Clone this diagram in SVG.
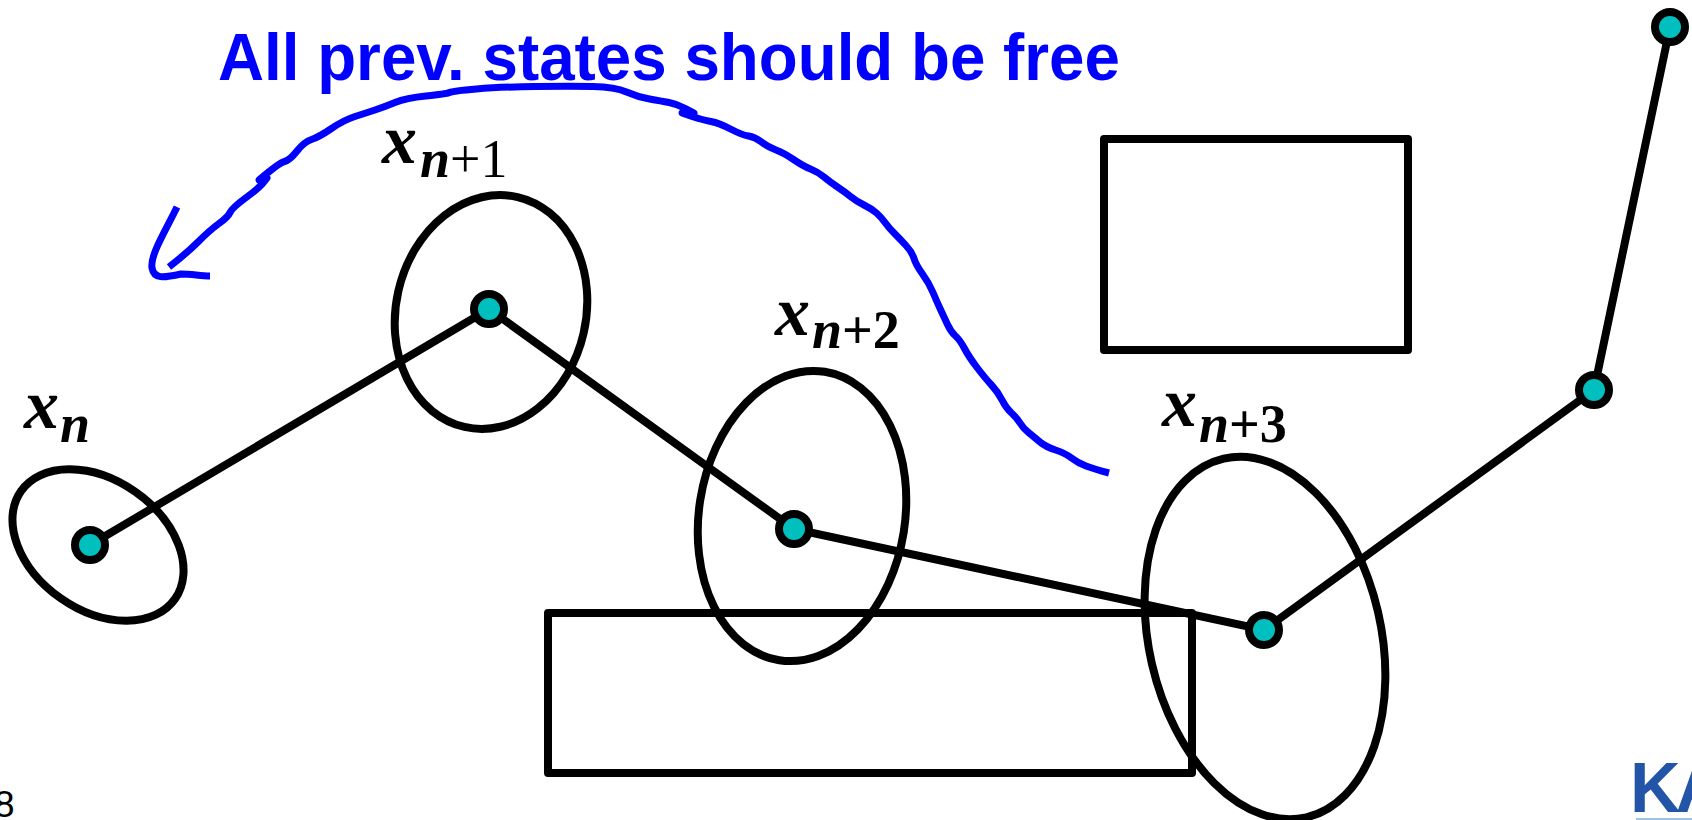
<svg xmlns="http://www.w3.org/2000/svg" width="1692" height="820" viewBox="0 0 1692 820">
<style>
.o{fill:none;stroke:#000;stroke-width:8;stroke-linejoin:round}
.c{fill:none;stroke:#000;stroke-width:8}
.p{fill:#00bfbf;stroke:#000;stroke-width:8}
.b{fill:none;stroke:#0000ff;stroke-width:7;stroke-linejoin:round}
.m{font-family:"Liberation Serif",serif;fill:#000}
.x{font-size:70px;font-weight:bold;font-style:italic}
.s{font-size:54px;font-weight:bold;font-style:italic}
.r{font-size:54px;font-weight:normal;font-style:normal}
.d{font-size:54px;font-weight:bold;font-style:normal}
</style>
<rect width="1692" height="820" fill="#fff"/>
<text id="title" x="218" y="80" font-family="Liberation Sans, sans-serif" font-weight="bold" font-size="66" fill="#0000ff" textLength="902" lengthAdjust="spacingAndGlyphs">All prev. states should be free</text>
<g id="obstacle1"><rect class="o" x="1104" y="139" width="304" height="211"/></g>
<g id="obstacle2"><rect class="o" x="548" y="613" width="644" height="160"/></g>
<g id="connectors">
<path class="c" d="M90 545L489 309L794 529L1264 630L1594 390L1670 27"/>
</g>
<g id="sweep"><path class="b" d="M177 207C165 232 150 255 152 268C154 279 163 278 181 274C192 274 200 276 210 276"/>
<path class="b" d="M169 267Q187 253 198.5 241.5Q210 230 219 223.5Q228 217 230 212.5Q232 208 245.5 198Q259 188 263 183L267 178L259 180Q279 163 284.5 161.5Q290 160 297 151Q304 142 311.5 139.5Q319 137 331.5 128.5Q344 120 355 116.5Q366 113 375 110Q384 107 395 102.5Q406 98 426 96Q446 94 449.5 92.5Q453 91 476.5 89Q500 87 535.5 86.5Q571 86 593 86.5Q615 87 626.5 92Q638 97 649.5 99Q661 101 669 102.5Q677 104 685.5 108.5L694 113L682 113L692 116.5Q703 120 711 121.5Q719 123 730.5 129Q742 135 748.5 136Q755 137 761.5 142Q768 147 776 150Q784 153 793.5 159.5Q803 166 810.5 169Q818 172 824 177Q830 182 837.5 187Q845 192 850.5 196.5Q856 201 864 205Q872 209 876.5 213Q881 217 885 222.5Q889 228 894.5 233.5Q900 239 906 245.5Q912 252 914 258.5Q916 265 922.5 274Q929 283 933 292.5Q937 302 940.5 309.5Q944 317 947.5 324.5Q951 332 955.5 336Q960 340 964.5 348.5Q969 357 977 367.5Q985 378 991.5 385Q998 392 1002 400Q1006 408 1011.5 413Q1017 418 1020 423Q1023 428 1028.5 432.5Q1034 437 1040 442Q1046 447 1055.5 450Q1065 453 1071.5 458Q1078 463 1086 466Q1094 469 1109 473"/></g>
<g id="xn"><ellipse class="c" cx="98" cy="545" rx="94" ry="65" transform="rotate(35 98 545)"/><circle class="p" cx="90" cy="545" r="15"/>
<text class="m x" x="24" y="428">x</text><text class="m s" x="60" y="442">n</text></g>
<g id="xn1"><ellipse class="c" cx="491" cy="312" rx="95" ry="118" transform="rotate(13 491 312)"/><circle class="p" cx="489" cy="309" r="15"/>
<text class="m x" x="382" y="163">x</text><text class="m s" x="420" y="177">n<tspan class="r">+1</tspan></text></g>
<g id="xn2"><ellipse class="c" cx="802" cy="516" rx="103" ry="146" transform="rotate(9 802 516)"/><circle class="p" cx="794" cy="529" r="15"/>
<text class="m x" x="775" y="335">x</text><text class="m s" x="812" y="348">n<tspan class="d">+2</tspan></text></g>
<g id="xn3"><ellipse class="c" cx="1265" cy="638" rx="116" ry="184" transform="rotate(-13 1265 638)"/><circle class="p" cx="1264" cy="630" r="15"/>
<text class="m x" x="1162" y="426">x</text><text class="m s" x="1199" y="442">n<tspan class="d">+3</tspan></text></g>
<g id="p5"><circle class="p" cx="1594" cy="390" r="15"/></g>
<g id="p6"><circle class="p" cx="1670" cy="27" r="15"/></g>
<text x="-6" y="817" font-family="Liberation Sans, sans-serif" font-size="37" fill="#000">8</text>
<text x="1630" y="812" font-family="Liberation Sans, sans-serif" font-weight="bold" font-size="70" letter-spacing="-5" fill="#2255a8">KA</text>
<rect x="1636" y="818" width="56" height="2" fill="#9cc3e8"/>
</svg>
